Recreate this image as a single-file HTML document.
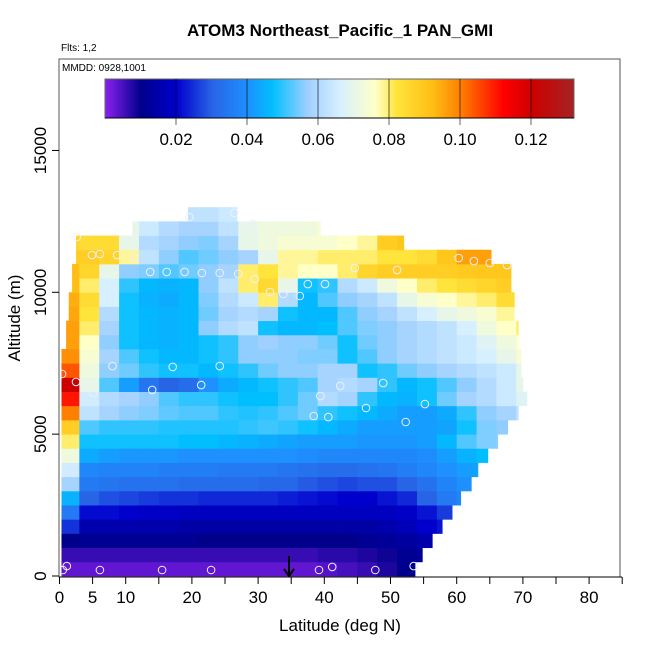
<!DOCTYPE html>
<html><head><meta charset="utf-8"><style>
html,body{margin:0;padding:0;background:#fff;}
svg{display:block;font-family:"Liberation Sans",Arial,sans-serif;}
</style></head><body>
<svg id="chart" width="650" height="650" viewBox="0 0 650 650" xmlns="http://www.w3.org/2000/svg">
<text x="340" y="36" text-anchor="middle" font-size="17" font-weight="bold">ATOM3 Northeast_Pacific_1 PAN_GMI</text>
<text x="61" y="51" font-size="10">Flts: 1,2</text>
<text x="340" y="631" text-anchor="middle" font-size="17">Latitude (deg N)</text>
<text transform="translate(20,318) rotate(-90)" text-anchor="middle" font-size="17">Altitude (m)</text>
<g id="cells"></g>
<g id="pts"></g>
<rect x="59" y="59" width="561" height="518" fill="none" stroke="#555" stroke-width="1"/>
<text x="62" y="71" font-size="10">MMDD: 0928,1001</text>
<g id="cbar"></g>
<g id="axes"></g>
<g>
<line x1="289" y1="556" x2="289" y2="575" stroke="#000" stroke-width="2"/>
<path d="M284 569 L289 576 L294 569" fill="none" stroke="#000" stroke-width="2"/>
</g>
</svg>
<script>
// ---- data ----
const bandAlt = 500; // altitude band thickness (m)
const colWidth = 3;  // latitude column width (deg)
const rowLeft = [0.3,0.3,0.3,0.3,0.3,0.3,0.3,0.3,0.3,0.3,0.3,0.3,0.3,0.3,0.3,0.3,1.0,1.0,1.4,1.4,1.9,1.9,2.5,2.5,11.0,19.4];
const rowRight = [53.7,54.8,56.3,57.8,59.3,60.6,62.2,63.2,64.7,66.2,67.7,69.3,70.6,70.0,69.7,69.7,69.3,69.3,68.7,68.7,68.2,68.2,65.2,52.0,39.4,26.8];
const rowVals = [
[3,3,3,3,3,3,3,3,3,3,3,3,3,4,5,6,8,10],
[6,6,6,6,6,6,6,6,6,6,6,6,6,7,7,8,9,11,12],
[10,11,11,11,11,11,11,10,10,10,10,10,10,10,10,11,12,13,15],
[25,15,15,15,15,15,14,14,14,14,14,14,14,14,14,14,15,17,20,22],
[35,21,21,20,19,19,18,18,18,18,18,18,18,18,18,18,18,19,22,26,28],
[45,30,28,27,26,25,25,24,24,24,24,23,22,21,20,20,22,24,30,35,38],
[58,35,34,33,33,33,32,32,32,32,31,31,29,28,27,28,28,30,33,37,40],
[65,38,37,37,37,36,36,36,35,35,35,34,33,32,32,33,34,36,38,40,42,43],
[72,44,42,41,41,41,40,40,40,40,40,40,39,38,38,38,38,38,39,42,45,47],
[80,48,48,48,48,48,47,47,46,45,44,43,42,42,42,41,41,41,42,46,52,55,56],
[88,52,50,50,50,49,49,49,49,50,51,50,48,46,44,42,42,42,42,43,48,55,56,57],
[100,62,58,56,55,53,52,52,50,49,50,52,54,50,48,46,44,42,42,44,50,56,58,62],
[110,65,60,58,56,52,50,50,48,47,47,50,54,60,58,50,46,45,48,54,58,60,64,68],
[120,70,52,42,34,30,32,40,44,46,48,50,52,58,60,58,50,46,48,52,56,60,64,70],
[104,72,56,54,50,48,48,46,48,50,54,56,56,58,58,48,50,54,56,58,60,62,64,70],
[98,74,58,52,48,46,46,48,50,56,56,56,55,55,48,52,56,58,60,62,64,66,70,74],
[96,76,56,48,46,45,46,48,50,56,57,56,56,54,48,54,56,58,60,62,64,68,72,76],
[96,80,58,48,46,45,46,56,60,62,48,46,46,47,52,55,56,58,60,62,66,72,76,80],
[95,82,60,48,46,45,46,54,58,60,58,48,46,46,52,56,58,62,66,70,72,74,78,84],
[94,84,66,48,45,44,46,55,60,64,80,60,46,52,56,58,62,70,74,76,78,80,84,86],
[92,80,66,50,46,45,46,56,62,80,85,70,48,50,60,64,72,76,80,82,84,86,88,90],
[92,86,70,56,55,52,54,56,58,80,82,78,76,76,80,86,88,88,88,88,89,90,90,92],
[88,88,86,78,62,56,52,54,56,58,70,78,78,80,80,80,82,82,84,90,96,96,96,96],
[86,84,84,70,60,58,56,55,58,70,72,74,74,74,76,78,88,90],
[0,0,0,70,64,60,58,58,62,70,72,72,72,74],
[0,0,0,0,0,0,62,62,64]
];
const ptLat = [0.4,2.5,4.9,6.1,8.7,11.3,14.0,17.1,21.4,24.2,13.7,16.2,18.9,21.5,24.2,27.0,29.5,2.6,19.6,26.4,29.2,31.8,33.8,36.3,37.5,40.1,39.4,42.4,38.4,40.6,46.3,52.3,55.2,48.9,44.6,51.0,60.3,62.6,65.0,67.6,5.1,8.0,0.5,1.1,6.1,15.5,22.9,39.2,41.2,47.7,53.5];
const ptAlt = [7120,6840,11310,11350,11310,11210,6560,7370,6730,7400,10720,10720,10720,10680,10680,10650,10470,11950,12650,12800,12410,10010,9940,9870,10290,10290,6340,6700,5640,5600,5920,5430,6060,6800,10860,10790,11210,11100,11030,10960,6450,7400,210,350,210,210,210,210,320,210,350];
const xTicks = [0,5,10,20,30,40,50,60,70,80];
const xMinor = [0,5,10,15,20,25,30,35,40,45,50,55,60,65,70,75,80,85];
const yTicks = [0,5000,10000,15000];
const cbTicks = [0.02,0.04,0.06,0.08,0.10,0.12];
const cbLabels = ["0.02","0.04","0.06","0.08","0.10","0.12"];
const cbMax = 0.132;
// ---- scales ----
const X = lat => 59.5 + lat * 6.62;
const Y = alt => 576 - alt * 0.02837;
const CB = v => 105 + v * 3550;
const stops = [[0,[138,32,240]],[0.01,[0,0,139]],[0.02,[0,0,205]],[0.03,[40,100,230]],[0.04,[30,144,255]],[0.047,[0,191,255]],[0.057,[160,208,255]],[0.066,[215,240,255]],[0.076,[255,255,200]],[0.082,[255,228,60]],[0.092,[255,190,20]],[0.1,[255,127,0]],[0.112,[255,0,0]],[0.12,[205,0,0]],[0.132,[165,35,35]]];
function col(v){
  if(v<=stops[0][0]) return 'rgb('+stops[0][1].join(',')+')';
  for(let i=1;i<stops.length;i++){
    if(v<=stops[i][0]){
      const a=stops[i-1],b=stops[i],t=(v-a[0])/(b[0]-a[0]);
      return 'rgb('+a[1].map((c,j)=>Math.round(c+(b[1][j]-c)*t)).join(',')+')';
    }
  }
  return 'rgb('+stops[stops.length-1][1].join(',')+')';
}
const NS='http://www.w3.org/2000/svg';
function mk(tag,attrs,parent){const e=document.createElementNS(NS,tag);for(const k in attrs)e.setAttribute(k,attrs[k]);parent.appendChild(e);return e;}
// ---- cells ----
const gc=document.getElementById('cells');
rowVals.forEach((vals,k)=>{
  vals.forEach((v,c)=>{
    const l=Math.max(c*colWidth,rowLeft[k]), r=Math.min((c+1)*colWidth,rowRight[k]);
    if(r<=l||!v) return;
    const x0=X(l), x1=X(r), y0=Y((k+1)*bandAlt), y1=Y(k*bandAlt);
    const e=mk('rect',{x:x0.toFixed(2),y:y0.toFixed(2),width:(x1-x0+0.4).toFixed(2),height:(y1-y0+0.4).toFixed(2),fill:col(v/1000)},gc);
    
    
  });
});
// ---- points ----
const gp=document.getElementById('pts');
ptLat.forEach((la,i)=>{
  const e=mk('circle',{cx:X(la).toFixed(1),cy:Y(ptAlt[i]).toFixed(1),r:3.8,fill:'none',stroke:'#eef0ff','stroke-width':1},gp);
  
  
});
// ---- colorbar ----
const gb=document.getElementById('cbar');
for(let i=0;i<469;i++){
  const v=i/469*cbMax;
  mk('rect',{x:105+i,y:79,width:1.2,height:39,fill:col(v)},gb);
}
mk('rect',{x:105,y:79,width:469,height:39,fill:'none',stroke:'#666','stroke-width':1},gb);
mk('line',{x1:105,y1:118,x2:574,y2:118,stroke:'#000','stroke-width':1},gb);
cbTicks.forEach((v,i)=>{
  const x=CB(v);
  mk('line',{x1:x,y1:79,x2:x,y2:125,stroke:'rgba(0,0,0,0.6)','stroke-width':1},gb);
  const t=mk('text',{x:x,y:145,'text-anchor':'middle','font-size':17},gb);
  t.textContent=cbLabels[i];
  
  
});
// ---- axes ----
const ga=document.getElementById('axes');
mk('line',{x1:59,y1:577,x2:622,y2:577,stroke:'#000','stroke-width':1},ga);
xMinor.forEach(v=>{mk('line',{x1:X(v),y1:577,x2:X(v),y2:584,stroke:'#000','stroke-width':1},ga);});
xTicks.forEach(v=>{
  const t=mk('text',{x:X(v),y:603,'text-anchor':'middle','font-size':17},ga);
  t.textContent=v;
  
  
});
yTicks.forEach(v=>{
  mk('line',{x1:52,y1:Y(v),x2:59,y2:Y(v),stroke:'#000','stroke-width':1},ga);
  const t=mk('text',{transform:'translate(46,'+Y(v)+') rotate(-90)','text-anchor':'middle','font-size':17},ga);
  t.textContent=v;
  
  
});
</script>
</body></html>
